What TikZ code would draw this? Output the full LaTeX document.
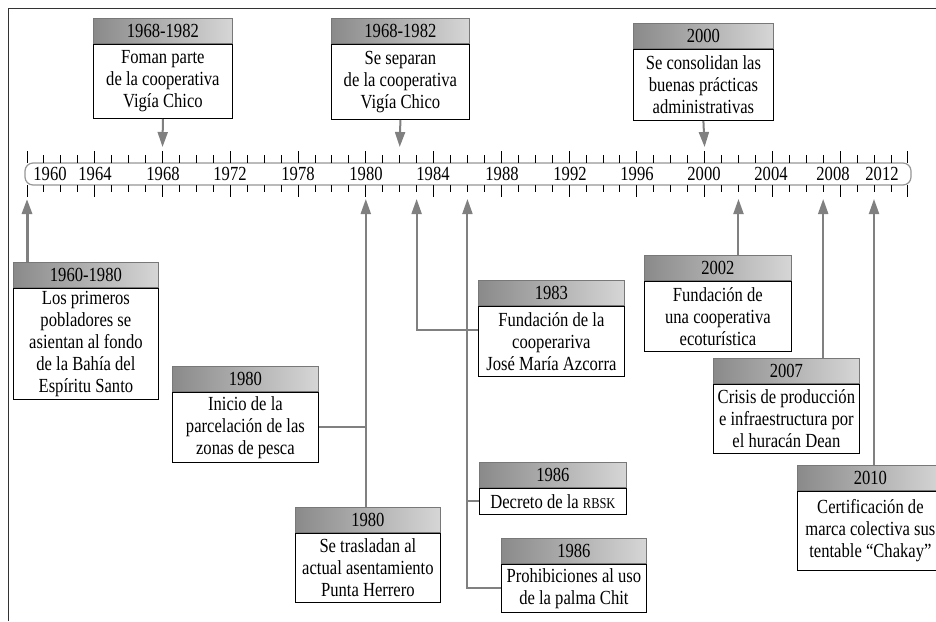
\documentclass[tikz,border=0pt]{standalone}
\usepackage{fontspec}
\setmainfont{Liberation Serif}[FakeStretch=0.83]
\usetikzlibrary{arrows.meta,positioning}
\definecolor{linkgray}{RGB}{128,128,128}
\definecolor{headdark}{RGB}{138,138,138}
\definecolor{headlight}{RGB}{214,214,214}
\definecolor{headline}{RGB}{120,120,120}
\definecolor{bargray}{RGB}{150,150,150}

\begin{document}
\begin{tikzpicture}[x=1pt, y=-1pt, font=\fontsize{20}{22}\selectfont]
\tikzstyle{yearhead} = [draw=headline, line width=0.8pt, left color=headdark, right color=headlight, minimum height=25pt, inner sep=0pt, anchor=north west]
\tikzstyle{eventbox} = [draw=black, line width=1.2pt, fill=white, align=center, inner xsep=2pt, inner ysep=2pt]
\tikzstyle{link} = [draw=linkgray, line width=2pt]
\tikzstyle{arr} = [link, -{Triangle[width=10pt,length=15pt]}]
\tikzstyle{tick} = [draw=black, line width=0.9pt]
\useasboundingbox (0,0) rectangle (936,621);
% frame
\draw[line width=1pt, black!80] (936,8) -- (8,8) -- (8,621);
% time bar
\draw[bargray, line width=1.2pt, fill=white, rounded corners=8pt] (25,163) rectangle (911,185);
\foreach \i in {0,...,52} {
	\draw[tick] (27+16.94*\i,155) -- (27+16.94*\i,163)
		(27+16.94*\i,185) -- (27+16.94*\i,192);
	\coordinate (top\i) at (27+16.94*\i,147);
	\coordinate (bot\i) at (27+16.94*\i,199);
}
\foreach \i in {0,4,...,52}
	\draw[tick] (27+16.94*\i,151) -- (27+16.94*\i,163)
		(27+16.94*\i,185) -- (27+16.94*\i,197);
\foreach \yr/\px in {1960/50, 1964/95, 1968/163, 1972/230, 1978/298, 1980/366, 1984/433,
	1988/502, 1992/570, 1996/637, 2000/704, 2004/771, 2008/833, 2012/882}
	\node[inner sep=0pt] (y\yr) at (\px,174) {\yr};

% boxes above the bar
\node[yearhead, minimum width=139pt] (h68) at (93,18) {1968-1982};
\node[eventbox, below=0pt of h68, minimum width=139pt, minimum height=74pt] (b68) {Foman parte\\de la cooperativa\\Vigía Chico};
\node[yearhead, minimum width=138pt] (h82) at (331,18) {1968-1982};
\node[eventbox, below=0pt of h82, minimum width=138pt, minimum height=75pt] (b82) {Se separan\\de la cooperativa\\Vigía Chico};
\node[yearhead, minimum width=140pt] (h00) at (633,23) {2000};
\node[eventbox, below=0pt of h00, minimum width=140pt, minimum height=71pt] (b00) {Se consolidan las\\buenas prácticas\\administrativas};

% boxes below the bar
\node[yearhead, minimum width=145pt] (h60) at (13,262) {1960-1980};
\node[eventbox, below=0pt of h60, minimum width=145pt, minimum height=111pt] (b60) {Los primeros\\pobladores se\\asientan al fondo\\de la Bahía del\\Espíritu Santo};
\node[yearhead, minimum width=146pt] (h80a) at (172,366) {1980};
\node[eventbox, below=0pt of h80a, minimum width=146pt, minimum height=70pt] (b80a) {Inicio de la\\parcelación de las\\zonas de pesca};
\node[yearhead, minimum width=145pt] (h80b) at (295,507) {1980};
\node[eventbox, below=0pt of h80b, minimum width=145pt, minimum height=69pt] (b80b) {Se trasladan al\\actual asentamiento\\Punta Herrero};
\node[yearhead, minimum width=146pt] (h83) at (478,280) {1983};
\node[eventbox, below=0pt of h83, minimum width=146pt, minimum height=70pt] (b83) {Fundación de la\\cooperariva\\José María Azcorra};
\node[yearhead, minimum width=147pt] (h86a) at (479,462) {1986};
\node[eventbox, below=0pt of h86a, minimum width=147pt, minimum height=26pt] (b86a) {Decreto de la {\fontsize{15}{15}\selectfont RBSK}};
\node[yearhead, minimum width=145pt] (h86b) at (501,538) {1986};
\node[eventbox, below=0pt of h86b, minimum width=145pt, minimum height=48pt] (b86b) {Prohibiciones al uso\\de la palma Chit};
\node[yearhead, minimum width=147pt] (h02) at (644,255) {2002};
\node[eventbox, below=0pt of h02, minimum width=147pt, minimum height=70pt] (b02) {Fundación de\\una cooperativa\\ecoturística};
\node[yearhead, minimum width=146pt] (h07) at (713,358) {2007};
\node[eventbox, below=0pt of h07, minimum width=146pt, minimum height=69pt] (b07) {Crisis de producción\\e infraestructura por\\el huracán Dean};
\node[yearhead, minimum width=146pt] (h10) at (797,465) {2010};
\node[eventbox, below=0pt of h10, minimum width=146pt, minimum height=79pt] (b10) {Certificación de\\marca colectiva sus\\tentable ``Chakay''};

% connectors
\draw[arr] (b68.south) -- (top8);
\draw[arr] (b82.south) -- (top22);
\draw[arr] (b00.south) -- (top40);
\draw[arr, line width=3pt] (h60.north -| bot0) -- (bot0);
\draw[arr] (h80b.north -| bot20) -- (bot20);
\draw[link] (b80a.east) -- (b80a.east -| bot20);
\draw[arr] ([yshift=11pt]b83.west) -| (bot23);
\draw[link] (b86a.west) -- (b86a.west -| bot26);
\draw[arr] (b86b.west) -| (bot26);
\draw[arr] (h02.north -| bot42) -- (bot42);
\draw[arr] (h07.north -| bot47) -- (bot47);
\draw[arr] (h10.north -| bot50) -- (bot50);
\end{tikzpicture}
\end{document}
